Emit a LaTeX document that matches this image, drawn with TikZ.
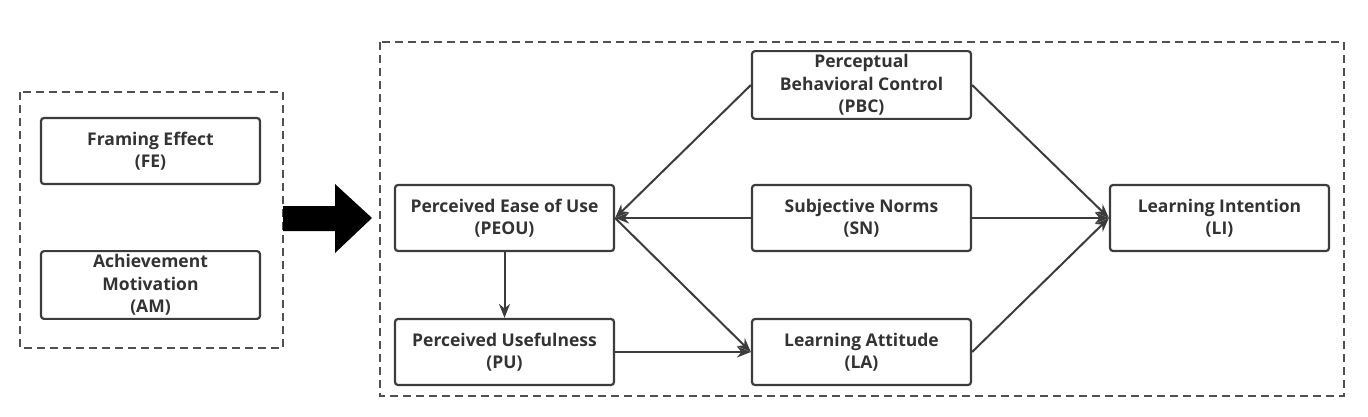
\documentclass[tikz,border=0pt]{standalone}
\usepackage{fontspec}
\setmainfont{Open Sans}
\usepackage{tikz}
\usetikzlibrary{arrows.meta}

\definecolor{linegray}{HTML}{3C3C3C}
\definecolor{textgray}{HTML}{333333}
\definecolor{dashgray}{HTML}{505050}

\tikzset{
    factor/.style={draw=linegray, line width=2.2pt, rounded corners=3pt, fill=white,
        minimum width=219pt, minimum height=66pt, align=center, text=textgray,
        font=\fontsize{17.5}{22.5}\selectfont\bfseries},
    dashbox/.style={draw=dashgray, line width=1.9pt, dash pattern=on 8pt off 5pt},
    link/.style={draw=linegray, line width=2pt, -{Stealth[length=14pt,width=11pt]}},
}

\begin{document}
\begin{tikzpicture}[x=1pt, y=-1pt]
    	\useasboundingbox (0, 0) rectangle (1368, 416);
    	% Groups:
    	\draw[dashbox] (20, 92) rectangle (283, 348);
    	\draw[dashbox] (380, 42) rectangle (1344, 396);
    	% Antecedents:
    	\node[factor] (FE) at (150.5, 151) {Framing Effect\\(FE)};
    	\node[factor] (AM) at (150.5, 285) {Achievement\\Motivation\\(AM)};
    	% Big arrow:
    	\fill[black] (283, 206) -- (335, 206) -- (335, 184) -- (372, 218) -- (335, 253) -- (335, 231) -- (283, 231) -- cycle;
    	% Model:
    	\node[factor] (PBC) at (861.5, 85) {Perceptual\\Behavioral Control\\(PBC)};
    	\node[factor] (PEOU) at (504.5, 218) {Perceived Ease of Use\\(PEOU)};
    	\node[factor] (SN) at (861.5, 218) {Subjective Norms\\(SN)};
    	\node[factor] (LI) at (1219.5, 218) {Learning Intention\\(LI)};
    	\node[factor] (PU) at (504.5, 352) {Perceived Usefulness\\(PU)};
    	\node[factor] (LA) at (861.5, 352) {Learning Attitude\\(LA)};
    	% Paths:
    	\draw[link] (PBC.west) -- (PEOU.east);
    	\draw[link] (SN.west) -- (PEOU.east);
    	\draw[link] (PEOU.east) -- (LA.west);
    	\draw[link] (PEOU.south) -- (PU.north);
    	\draw[link] (PU.east) -- (LA.west);
    	\draw[link] (PBC.east) -- (LI.west);
    	\draw[link] (SN.east) -- (LI.west);
    	\draw[link] (LA.east) -- (LI.west);
\end{tikzpicture}
\end{document}
